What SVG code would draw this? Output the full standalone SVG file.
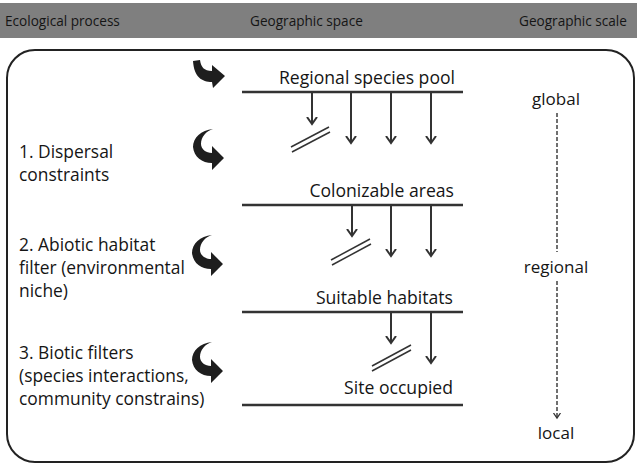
<svg xmlns="http://www.w3.org/2000/svg" width="637" height="465" viewBox="0 0 637 465">
<defs>
<style>
text{font-family:"Open Sans","Liberation Sans",sans-serif;fill:#151515;}
.hdr{font-size:13.6px;}
.lbl{font-size:17.6px;}
.lft{font-size:17.4px;}
.sc{font-size:17px;text-anchor:middle;}
.lvl{stroke:#333;stroke-width:2.5;fill:none;}
.arr{stroke:#333;stroke-width:2;fill:none;marker-end:url(#ah);}
.sl{stroke:#333;stroke-width:1.5;fill:none;}
.ca{fill:#1e1e1e;}
.dash{stroke:#333;stroke-width:1.4;stroke-dasharray:4,2;fill:none;}
</style>
<marker id="ah" markerUnits="userSpaceOnUse" markerWidth="14" markerHeight="14" viewBox="-7 -7 14 14" refX="0" refY="0" orient="auto">
<path d="M-7,-5 L0,0 L-7,5" stroke="#333" stroke-width="2" fill="none"/>
</marker>
<marker id="dh" markerUnits="userSpaceOnUse" markerWidth="10" markerHeight="10" viewBox="-5 -5 10 10" refX="0" refY="0" orient="auto">
<path d="M-5,-3.5 L0,0 L-5,3.5" stroke="#333" stroke-width="1.3" fill="none"/>
</marker>
<path id="carr" d="M20,0 C8,1 0,9 0,18 C1,28 9,34 19,34 L19,41 L31,29 L19,17 L19,24 C13,24 8,20 8,15 C8,8 13,2 20,0 Z"/>
</defs>

<g id="header">
<rect x="0" y="3" width="637" height="35" fill="#7f7f7f"/>
<text class="hdr" x="5" y="26">Ecological process</text>
<text class="hdr" x="250" y="26">Geographic space</text>
<text class="hdr" x="519" y="26">Geographic scale</text>
</g>

<g id="frame">
<rect x="7" y="50" width="627" height="412" rx="28" ry="28" fill="none" stroke="#222" stroke-width="2"/>
</g>

<g id="process-labels">
<text class="lft" x="19" y="158">1. Dispersal</text>
<text class="lft" x="19" y="181">constraints</text>
<text class="lft" x="19" y="251">2. Abiotic habitat</text>
<text class="lft" x="19" y="274">filter (environmental</text>
<text class="lft" x="19" y="297">niche)</text>
<text class="lft" x="19" y="359">3. Biotic filters</text>
<text class="lft" x="19" y="382">(species interactions,</text>
<text class="lft" x="19" y="405">community constrains)</text>
</g>

<g id="curved-arrows">
<path class="ca" d="M193,61 L200,60 C201,67 204,71 212,71 L212,65 L225,76 L213,88 L212,82 C202,82 194,77 193,61 Z"/>
<use href="#carr" class="ca" x="193" y="129"/>
<use href="#carr" class="ca" x="192" y="235"/>
<use href="#carr" class="ca" x="192" y="342"/>
</g>

<g id="level-regional">
<line class="lvl" x1="242" y1="92" x2="463" y2="92"/>
<text class="lbl" x="455" y="84" text-anchor="end">Regional species pool</text>
</g>
<g id="level-colonizable">
<line class="lvl" x1="242" y1="205" x2="463" y2="205"/>
<text class="lbl" x="454" y="197" text-anchor="end">Colonizable areas</text>
</g>
<g id="level-suitable">
<line class="lvl" x1="242" y1="312" x2="463" y2="312"/>
<text class="lbl" x="453" y="304" text-anchor="end">Suitable habitats</text>
</g>
<g id="level-site">
<line class="lvl" x1="242" y1="405" x2="463" y2="405"/>
<text class="lbl" x="453" y="394" text-anchor="end">Site occupied</text>
</g>

<g id="scale">
<text class="sc" x="556" y="105">global</text>
<text class="sc" x="556" y="273">regional</text>
<text class="sc" x="556" y="439">local</text>
</g>

<g id="connectors">
<line class="arr" x1="312" y1="93" x2="312" y2="124"/>
<line class="arr" x1="351" y1="93" x2="351" y2="143"/>
<line class="arr" x1="391" y1="93" x2="391" y2="143"/>
<line class="arr" x1="431" y1="93" x2="431" y2="143"/>
<line class="sl" x1="291" y1="147" x2="329" y2="127"/>
<line class="sl" x1="292" y1="152" x2="330" y2="132"/>

<line class="arr" x1="352" y1="206" x2="352" y2="236"/>
<line class="arr" x1="391" y1="206" x2="391" y2="256"/>
<line class="arr" x1="431" y1="206" x2="431" y2="256"/>
<line class="sl" x1="331" y1="260" x2="370" y2="239"/>
<line class="sl" x1="332" y1="265" x2="371" y2="244"/>

<line class="arr" x1="391" y1="313" x2="391" y2="343"/>
<line class="arr" x1="431" y1="313" x2="431" y2="363"/>
<line class="sl" x1="372" y1="366" x2="411" y2="345"/>
<line class="sl" x1="372" y1="371" x2="411" y2="350"/>

<line class="dash" x1="557" y1="113" x2="557" y2="252"/>
<line class="dash" x1="557" y1="281" x2="557" y2="418" marker-end="url(#dh)"/>
</g>
</svg>
